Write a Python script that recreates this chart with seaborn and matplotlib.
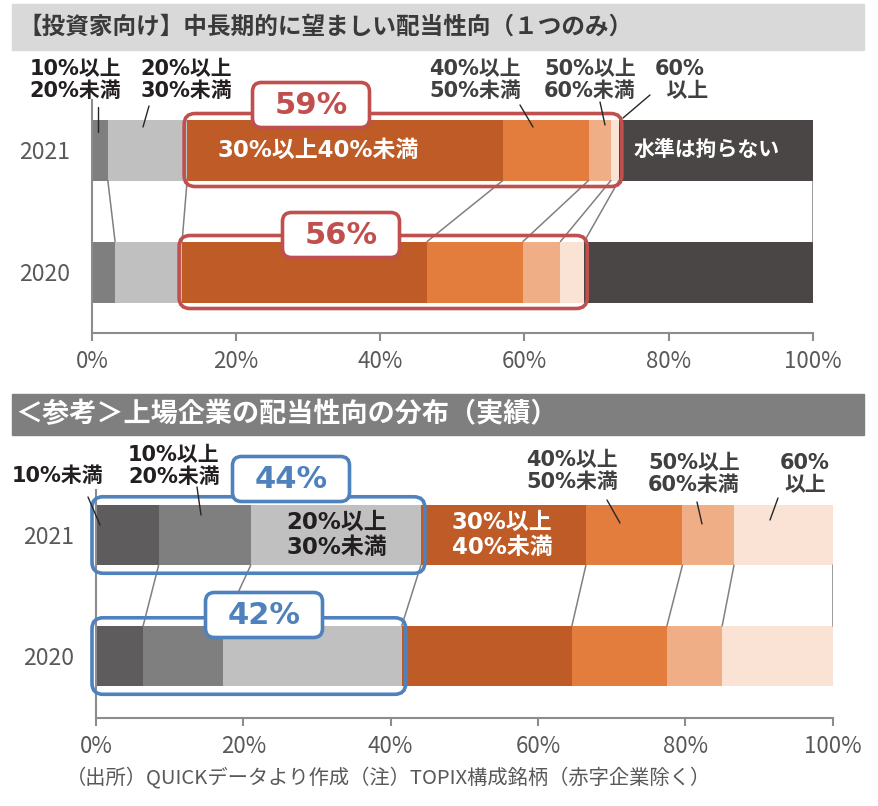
import numpy as np
import matplotlib
matplotlib.use('Agg')
import matplotlib.pyplot as plt
import seaborn as sns
from matplotlib.patches import FancyBboxPatch, Rectangle
from matplotlib.lines import Line2D
from matplotlib.transforms import Affine2D, IdentityTransform

# data
years = ['2021', '2020']
top_labels = ['10%以上20%未満', '20%以上30%未満', '30%以上40%未満', '40%以上50%未満',
              '50%以上60%未満', '60%以上', '水準は拘らない']
top_2021 = [2.2, 11.0, 43.8, 11.9, 3.1, 1.1, 26.9]
top_2020 = [3.2, 9.3, 34.0, 13.3, 5.2, 3.3, 31.7]
top_boxed = ['59%', '56%']

bot_labels = ['10%未満', '10%以上20%未満', '20%以上30%未満', '30%以上40%未満',
              '40%以上50%未満', '50%以上60%未満', '60%以上']
bot_2021 = [8.5, 12.5, 23.1, 22.4, 13.1, 7.0, 13.4]
bot_2020 = [6.4, 10.8, 24.3, 23.1, 12.9, 7.5, 15.0]
bot_boxed = ['44%', '42%']

xticks = [0, 20, 40, 60, 80, 100]

top_colors = ['#7f7f7f', '#bfc0bf', '#be5b26', '#e27d3e', '#efae85', '#fae3d5', '#4a4645']
bot_colors = ['#5e5c5c', '#7f7f7f', '#bfc0bf', '#be5b26', '#e27d3e', '#efae85', '#fae3d5']
RED = '#c0504d'
BLUE = '#4f81bd'
AXC = '#8c8c8c'
TXT = '#595959'
WIDE = ['DejaVu Sans', 'Noto Sans CJK JP']  # wider digits, CJK falls back to Noto

sns.set_theme(style='white')
plt.rcParams['font.family'] = ['Noto Sans CJK JP', 'DejaVu Sans']

W, H = 879, 806
fig = plt.figure(figsize=(W / 100, H / 100), dpi=100)
px = Affine2D().scale(1, -1).translate(0, H)  # pixel coords, origin top-left


def stacked(ax, v21, v20, colors, ylim):
    cum = np.cumsum([v21, v20], axis=1)
    for i in reversed(range(cum.shape[1])):
        sns.barplot(x=cum[:, i], y=years, order=years, color=colors[i], width=0.5,
                    saturation=1, linewidth=0, errorbar=None, ax=ax)
    # connector lines between the two bars
    for i in range(cum.shape[1]):
        ax.plot([cum[0, i], cum[1, i]], [0.25, 0.75], color='#808080', lw=1.1, zorder=3)
    ax.set_xlim(0, 100)
    ax.set_ylim(*ylim)
    ax.set_xticks(xticks)
    ax.set_xticklabels([f'{t}%' for t in xticks])
    ax.set(xlabel='', ylabel='')
    sns.despine(ax=ax)
    for s in ['left', 'bottom']:
        ax.spines[s].set_color(AXC)
        ax.spines[s].set_linewidth(1.5)
    ax.tick_params(axis='x', bottom=True, length=6, width=1.5, color=AXC,
                   labelsize=16, labelcolor=TXT, pad=6)
    ax.tick_params(axis='y', length=0, labelsize=16.5, labelcolor=TXT, pad=16)
    return cum


def big_box(ax, x0s, x1s, color, hp=4, vp=6):
    for row, (x0, x1) in enumerate(zip(x0s, x1s)):
        (a, b), (c, d) = ax.transData.transform([(x0, row + 0.25), (x1, row - 0.25)])
        fig.add_artist(FancyBboxPatch((a - hp, b - vp), c - a + 2 * hp, d - b + 2 * vp,
                                      boxstyle='round,pad=0,rounding_size=11',
                                      transform=IdentityTransform(), fill=False,
                                      ec=color, lw=2.6, zorder=4))


def tag(cx, cy, s, color, w=117, h=45):
    fig.add_artist(FancyBboxPatch((cx - w / 2, cy - h / 2), w, h,
                                  boxstyle='round,pad=0,rounding_size=9',
                                  transform=px, fc='white', ec=color, lw=2.6, zorder=5))
    fig.text(cx, cy + 1, s, transform=px, ha='center', va='center', fontsize=22,
             fontweight='bold', color=color, family=WIDE, zorder=6)


def label(cx, cy, s, color, size=15):
    fig.text(cx, cy, s, transform=px, ha='center', va='center', ma='center',
             fontsize=size, fontweight='bold', color=color, linespacing=1.15,
             family=WIDE, zorder=6)


def leader(x0, y0, x1, y1, color='#262626'):
    fig.add_artist(Line2D([x0, x1], [y0, y1], transform=px, color=color, lw=1, zorder=6))


# headers
fig.add_artist(Rectangle((12, 4), 852, 46, transform=px, color='#d9d9d9', zorder=0))
fig.text(18, 27, '【投資家向け】中長期的に望ましい配当性向（１つのみ）', transform=px,
         ha='left', va='center', fontsize=17, fontweight='bold', color='#3a3a3a')
fig.add_artist(Rectangle((12, 394), 852, 41, transform=px, color='#7f7f7f', zorder=0))
fig.text(15, 414, '＜参考＞上場企業の配当性向の分布（実績）', transform=px,
         ha='left', va='center', fontsize=19.5, fontweight='bold', color='white')

# top chart
ax1 = fig.add_axes([92 / W, (H - 333) / H, 720.7 / W, 233 / H])
cum1 = stacked(ax1, top_2021, top_2020, top_colors, (1.5, -0.41))
big_box(ax1, cum1[:, 1], cum1[:, 5], RED, hp=3, vp=6)
tag(311, 105, top_boxed[0], RED)
tag(341, 235, top_boxed[1], RED)

label(75, 80, '10%以上\n20%未満', '#231f20')
label(186, 80, '20%以上\n30%未満', '#231f20')
label(475, 80, '40%以上\n50%未満', '#404040')
label(590, 80, '50%以上\n60%未満', '#404040')
label(680, 80, '60%\n  以上', '#404040')
label(318, 150, '30%以上40%未満', 'white', 16.5)
label(707, 150, '水準は拘らない', 'white', 15)
leader(98, 107, 98, 132)
leader(149, 106, 143, 127)
leader(520, 105, 533, 127)
leader(600, 102, 605, 125)
leader(650, 95, 623, 118)

# bottom chart
ax2 = fig.add_axes([96 / W, (H - 718) / H, 736.7 / W, 228 / H])
cum2 = stacked(ax2, bot_2021, bot_2020, bot_colors, (1.512, -0.372))
big_box(ax2, [0, 0], cum2[:, 2], BLUE, hp=4, vp=8)
tag(291, 479, bot_boxed[0], BLUE)
tag(264, 615, bot_boxed[1], BLUE)

label(57, 476, '10%未満', '#231f20')
label(174, 466, '10%以上\n20%未満', '#231f20')
label(337, 535, '20%以上\n30%未満', '#231f20', 16.5)
label(502, 535, '30%以上\n40%未満', 'white', 16.5)
label(572, 471, '40%以上\n50%未満', '#404040')
label(694, 474, '50%以上\n60%未満', '#404040')
label(805, 474, '60%\n以上', '#404040')
leader(88, 497, 100, 525)
leader(197, 487, 201, 515)
leader(607, 500, 620, 523)
leader(697, 502, 702, 524)
leader(778, 498, 770, 520)

fig.text(66, 778, '（出所）QUICKデータより作成（注）TOPIX構成銘柄（赤字企業除く）',
         transform=px, ha='left', va='center', fontsize=14.6, color=TXT)

fig.savefig('out.png', dpi=100)
